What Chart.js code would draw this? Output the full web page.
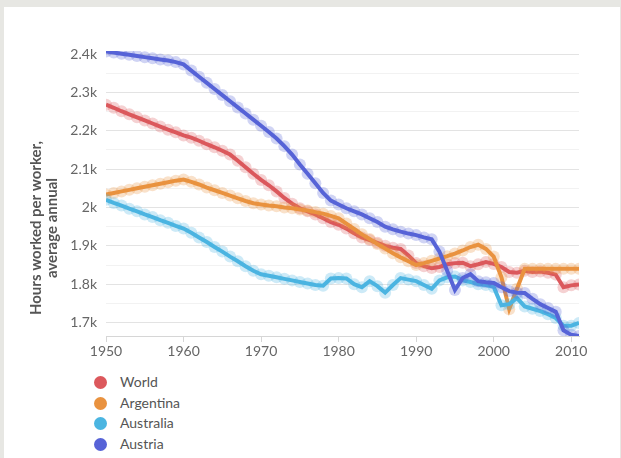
<!DOCTYPE html>
<html>
<head>
<meta charset="utf-8">
<script src="https://cdn.jsdelivr.net/npm/chart.js@4/dist/chart.umd.min.js"></script>
<style>
  html, body { margin: 0; padding: 0; }
  body { width: 621px; height: 458px; background: #e7e7e3; position: relative; overflow: hidden; font-family: Lato, sans-serif; }
  .card { position: absolute; left: 4px; top: 7px; right: 1px; bottom: 0; background: #fff; }
  #chart { position: absolute; left: 0; top: 0; }
  #legend { position: absolute; left: 94px; top: 372px; margin: 0; padding: 0; list-style: none; }
  #legend li { height: 20.5px; line-height: 20.5px; font-size: 14px; color: #555; position: relative; padding-left: 26px; }
  #legend li span { position: absolute; left: 0; top: 4px; width: 13px; height: 13px; border-radius: 50%; }
</style>
</head>
<body>
<div class="card"></div>
<canvas id="chart" width="621" height="365"></canvas>
<ul id="legend"></ul>
<script>
const years = [];
for (let y = 1950; y <= 2011; y++) years.push(y);

const world = [2268, 2260, 2251, 2243, 2235, 2227, 2219, 2211, 2203, 2196,
  2188, 2182, 2174, 2165, 2157, 2148, 2138, 2122, 2105, 2088,
  2072, 2058, 2042, 2025, 2010, 1998, 1990, 1982, 1972, 1962,
  1955, 1945, 1933, 1922, 1915, 1908, 1900, 1895, 1892, 1875,
  1855, 1847, 1842, 1845, 1852, 1855, 1856, 1847, 1852, 1858,
  1853, 1845, 1832, 1830, 1835, 1832, 1833, 1830, 1825, 1792,
  1797, 1799];

const argentina = [2034, 2038, 2042, 2046, 2050, 2054, 2058, 2062, 2066, 2070,
  2073, 2067, 2060, 2052, 2045, 2038, 2031, 2024, 2017, 2011,
  2008, 2005, 2003, 2000, 1998, 1995, 1992, 1988, 1984, 1978,
  1972, 1958, 1944, 1930, 1918, 1905, 1893, 1881, 1870, 1860,
  1850, 1855, 1861, 1867, 1873, 1880, 1888, 1897, 1903, 1892,
  1872, 1818, 1735, 1788, 1840, 1840, 1840, 1840, 1840, 1840,
  1840, 1840];

const australia = [2020, 2012, 2005, 1997, 1990, 1982, 1975, 1967, 1960, 1952,
  1945, 1934, 1922, 1910, 1897, 1885, 1872, 1860, 1847, 1835,
  1826, 1822, 1818, 1814, 1810, 1806, 1802, 1798, 1796, 1815,
  1816, 1815, 1800, 1792, 1808, 1795, 1778, 1798, 1816, 1812,
  1808, 1798, 1788, 1810, 1818, 1820, 1810, 1806, 1800, 1798,
  1793, 1745, 1748, 1764, 1742, 1736, 1730, 1722, 1712, 1692,
  1692, 1699];

const austria = [2407, 2404, 2401, 2398, 2395, 2392, 2389, 2386, 2383, 2379,
  2373, 2357, 2341, 2325, 2309, 2293, 2277, 2261, 2245, 2229,
  2213, 2197, 2180, 2160, 2138, 2112, 2088, 2063, 2038, 2018,
  2008, 1998, 1990, 1982, 1972, 1962, 1950, 1943, 1937, 1932,
  1928, 1922, 1917, 1885, 1835, 1785, 1816, 1826, 1808, 1805,
  1803, 1792, 1782, 1778, 1777, 1762, 1748, 1738, 1728, 1680,
  1668, 1665];

const seriesNames = ['World', 'Argentina', 'Australia', 'Austria'];
const seriesValues = [world, argentina, australia, austria];
const seriesColors = ['#dc585c', '#e9923f', '#4bb5e1', '#5763d7'];
const yTitle = ['Hours worked per worker,', 'average annual'];

function fade(hex, a) {
  const n = parseInt(hex.slice(1), 16);
  return `rgba(${n >> 16}, ${(n >> 8) & 255}, ${n & 255}, ${a})`;
}

const datasets = seriesNames.map((name, i) => ({
  label: name,
  data: years.map((yr, j) => ({ x: yr, y: seriesValues[i][j] })),
  borderColor: seriesColors[i],
  borderWidth: 4,
  pointRadius: 6,
  pointBorderWidth: 0,
  pointBackgroundColor: fade(seriesColors[i], 0.28),
  tension: 0,
  order: 4 - i
}));

// rotated two-line axis title left of the y ticks
const yTitlePlugin = {
  id: 'yTitle',
  afterDraw(chart) {
    const c = chart.ctx;
    c.save();
    c.translate(44, 228);
    c.rotate(-Math.PI / 2);
    c.font = 'bold 15px Lato';
    c.fillStyle = '#555';
    c.textAlign = 'center';
    c.textBaseline = 'middle';
    c.fillText(yTitle[0], 0, -8);
    c.fillText(yTitle[1], 0, 8);
    c.restore();
  }
};

const chart = new Chart(document.getElementById('chart'), {
  type: 'line',
  data: { datasets: datasets },
  plugins: [yTitlePlugin],
  options: {
    responsive: false,
    animation: false,
    layout: { padding: { left: 0, right: 42, top: 51, bottom: 0 } },
    plugins: { legend: { display: false }, tooltip: { enabled: false } },
    scales: {
      x: {
        type: 'linear',
        min: 1950,
        max: 2011,
        afterBuildTicks(scale) {
          scale.ticks = [1950, 1960, 1970, 1980, 1990, 2000, 2010].map(v => ({ value: v }));
        },
        afterFit(scale) { scale.height = 29; },
        border: { color: '#d6d6d6', width: 1 },
        grid: { drawOnChartArea: false, drawTicks: true, tickLength: 6, color: '#d6d6d6' },
        ticks: {
          padding: 1,
          color: '#666',
          font: { family: 'Lato', size: 14 },
          callback: v => String(v)
        }
      },
      y: {
        min: 1665,
        max: 2408,
        afterBuildTicks(scale) {
          const t = [];
          for (let v = 1700; v <= 2400; v += 50) t.push({ value: v });
          scale.ticks = t;
        },
        afterFit(scale) { scale.width = 106; },
        border: { display: false },
        grid: {
          drawTicks: false,
          color: ctx => (ctx.tick && ctx.tick.value % 100 === 0) ? '#e3e3e3' : '#f2f2f2'
        },
        ticks: {
          padding: 9,
          color: '#666',
          font: { family: 'Lato', size: 14 },
          callback: v => v % 100 === 0 ? (v / 1000) + 'k' : ''
        }
      }
    }
  }
});

const legend = document.getElementById('legend');
seriesNames.forEach((name, i) => {
  const li = document.createElement('li');
  const dot = document.createElement('span');
  dot.style.background = seriesColors[i];
  li.appendChild(dot);
  li.appendChild(document.createTextNode(name));
  legend.appendChild(li);
});
</script>
</body>
</html>
